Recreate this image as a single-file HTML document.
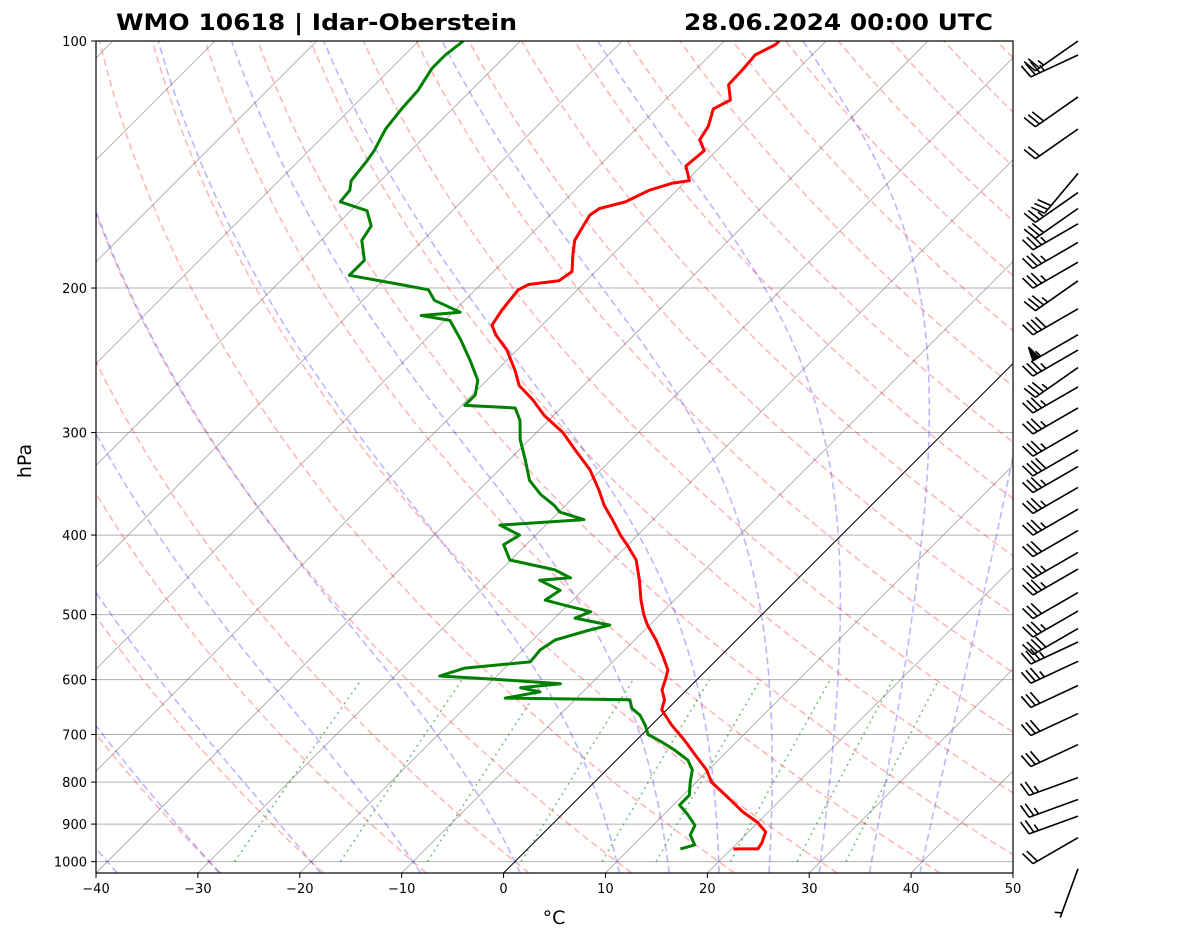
<!DOCTYPE html>
<html><head><meta charset="utf-8">
<style>
html,body{margin:0;padding:0;background:#fff;}
svg{display:block;font-family:"DejaVu Sans","Liberation Sans",sans-serif;}
</style></head>
<body>
<svg id="chart" width="1181" height="941" viewBox="0 0 1181 941" xmlns="http://www.w3.org/2000/svg">
<defs><clipPath id="plotclip"><rect x="96" y="41" width="917" height="832"/></clipPath></defs>
<rect x="0" y="0" width="1181" height="941" fill="#fff"/>
<text x="116" y="30" font-size="22" font-weight="bold" textLength="401" lengthAdjust="spacingAndGlyphs">WMO 10618 | Idar-Oberstein</text>
<text x="684" y="30" font-size="22" font-weight="bold" textLength="309" lengthAdjust="spacingAndGlyphs">28.06.2024 00:00 UTC</text>
<text x="31" y="461" font-size="19" text-anchor="middle" transform="rotate(-90 31 461)">hPa</text>
<text x="554" y="924" font-size="19" text-anchor="middle">°C</text>
<g id="bg" clip-path="url(#plotclip)"></g>
<g id="prof" clip-path="url(#plotclip)"></g>
<g id="axes"></g>
<g id="barbs"></g>
</svg>
<script>
// ---- data ----
const tempPressure = [965,965,949,920,895,870,841,818,800,773,741,711,682,653,635,618,600,584,560,537,515,500,480,454,429,411,400,383,368,352,333,315,300,286,274,263,252,238,228,222,213,207,201,198,196,191,182,175,169,163,160,157,152,149,148,142,136,132,127,121,118,113,108,104,101,100];
const temperature = [20.2,22.6,22.4,21.7,19.9,17.5,15.1,13.1,11.5,9.8,7.2,4.7,2.0,-0.5,-1.2,-2.4,-3.1,-3.8,-5.8,-7.9,-10.2,-11.6,-13.3,-15.4,-17.7,-20.1,-21.7,-24.0,-26.2,-28.3,-31.1,-34.5,-37.4,-40.9,-43.5,-46.3,-48.2,-51.0,-53.6,-54.9,-55.4,-55.6,-55.8,-55.3,-52.7,-52.3,-53.9,-55.1,-55.6,-56.1,-55.8,-53.9,-52.7,-51.1,-49.7,-51.5,-51.2,-52.7,-53.2,-54.4,-53.6,-55.3,-55.4,-55.6,-54.6,-54.6];
const dewPressure = [965,954,928,903,877,853,830,800,773,752,731,715,700,682,663,650,635,632,621,614,607,600,594,581,571,552,537,522,515,505,496,487,480,467,454,451,441,429,411,400,389,383,375,368,357,343,324,306,290,280,278,270,259,245,231,219,216,214,207,201,198,193,185,175,168,161,157,152,148,140,136,128,121,115,108,104,100];
const dewpoint = [15.0,16.0,14.6,14.1,12.4,10.6,10.6,9.4,8.4,7.0,4.7,2.7,0.6,-0.6,-2.1,-3.6,-4.6,-17.0,-14.2,-16.5,-13.0,-19.3,-25.6,-23.9,-18.1,-18.3,-17.8,-15.4,-13.9,-18.0,-17.1,-20.3,-22.7,-22.2,-25.2,-22.4,-24.7,-30.1,-32.2,-31.6,-34.5,-26.8,-29.9,-31.1,-33.5,-36.0,-38.4,-40.9,-42.8,-44.5,-49.7,-49.7,-50.9,-53.6,-56.6,-59.5,-62.8,-59.3,-63.0,-64.6,-67.9,-73.8,-73.8,-76.0,-76.5,-78.4,-81.9,-82.1,-82.9,-83.3,-83.6,-84.6,-85.0,-85.2,-86.0,-86.0,-85.6];
const windPressure = [100,104,117,128,145,153,160,167,176,186,196,212,228,238,250,264,280,298,315,330,350,372,395,420,440,470,495,520,540,570,610,660,720,790,840,880,935,1020];
const windSpeed = [25,35,30,20,30,25,30,35,35,35,35,40,55,35,35,35,35,35,40,35,35,35,30,35,35,30,35,40,35,35,30,30,30,25,25,25,20,5];
const windDir = [235,245,235,235,220,235,235,240,240,240,235,240,240,240,235,240,240,240,240,240,240,240,240,240,240,240,240,240,245,245,245,245,245,250,250,250,240,200];
const xTicks = [-40,-30,-20,-10,0,10,20,30,40,50];
const yTicks = [100,200,300,400,500,600,700,800,900,1000];
const dryTheta0 = [-30,-20,-10,0,10,20,30,40,50,60,70,80,90,100,110,120,130,140,150,160,170,180,190,200];
const moistT0 = [-50,-40,-30,-20,-10,0,10,15,20,25,30,35,40];
const mixRatios = [0.0004,0.001,0.002,0.004,0.007,0.01,0.016,0.024,0.032];

// ---- scales ----
const X0=96,X1=1013,Y0=41,Y1=873,PXC=(X1-X0)/90,YB=356.4;
const PBOT=100*Math.exp((Y1-Y0)/YB);
function yP(p){return Y0+YB*Math.log(p/100);}
function xT(T,p){return X0+(T+40)*PXC+(Y1-yP(p));}
const NS="http://www.w3.org/2000/svg";
function mk(tag,attrs,parent){const e=document.createElementNS(NS,tag);for(const k in attrs)e.setAttribute(k,attrs[k]);parent.appendChild(e);return e;}
const bg=document.getElementById('bg'),prof=document.getElementById('prof'),axes=document.getElementById('axes'),barbs=document.getElementById('barbs');
function pathFrom(pts){return pts.map((q,i)=>(i?'L':'M')+q[0].toFixed(1)+' '+q[1].toFixed(1)).join(' ');}
const pGrid=[];for(let p=PBOT;p>=99;p*=0.99)pGrid.push(p);pGrid.push(100);

yTicks.forEach(p=>{const l=mk('line',{x1:X0,x2:X1,y1:yP(p),y2:yP(p),stroke:'#b0b0b0','stroke-width':1},bg);

});
for(let T=-160;T<=50;T+=10){const l=mk('line',{x1:xT(T,PBOT),y1:Y1,x2:xT(T,100),y2:Y0,stroke:'#777','stroke-width':0.8,'stroke-opacity':0.7},bg);

}
dryTheta0.forEach(t0=>{const th=t0+273.15;const pts=pGrid.map(p=>[xT(th*Math.pow(p/1000,0.2857)-273.15,p),yP(p)]);
const e=mk('path',{d:pathFrom(pts),fill:'none',stroke:'#ff0000','stroke-opacity':0.28,'stroke-width':1.6,'stroke-dasharray':'7,4'},bg);

});
function dTdp(p,T){const Tc=T-273.15;const es=6.112*Math.exp(17.67*Tc/(Tc+243.5));const rs=0.622*es/Math.max(p-es,1);
return (287*T+2.501e6*rs)/(1005+2.501e6*2.501e6*rs*0.622/(287*T*T))/p;}
function integ(T,p0,p1,n){const out=[[p0,T]];const dp=(p1-p0)/n;let p=p0;for(let i=0;i<n;i++){const k1=dTdp(p,T);const k2=dTdp(p+dp/2,T+k1*dp/2);T+=k2*dp;p+=dp;out.push([p,T]);}return out;}
moistT0.forEach(t0=>{const up=integ(t0+273.15,1000,100,300);const dn=integ(t0+273.15,1000,PBOT,20).reverse();
const pts=dn.concat(up).map(a=>[xT(a[1]-273.15,a[0]),yP(a[0])]);
const e=mk('path',{d:pathFrom(pts),fill:'none',stroke:'#0000ff','stroke-opacity':0.28,'stroke-width':1.6,'stroke-dasharray':'7,4'},bg);

});
mixRatios.forEach(w=>{const pts=[];for(let p=1000;p>=600;p-=20){const e=w*p/(0.622+w);const L=Math.log(e/6.112);const Td=243.5*L/(17.67-L);pts.push([xT(Td,p),yP(p)]);}
const e=mk('path',{d:pathFrom(pts),fill:'none',stroke:'#008000','stroke-opacity':0.5,'stroke-width':1.6,'stroke-dasharray':'2,4'},bg);

});
{const l=mk('line',{x1:xT(0,PBOT),y1:Y1,x2:xT(0,100),y2:Y0,stroke:'#000','stroke-width':1},bg);

}
{const d=pathFrom(temperature.map((T,i)=>[xT(T,tempPressure[i]),yP(tempPressure[i])]));
const e=mk('path',{d:d,fill:'none',stroke:'#ff0000','stroke-width':3,'stroke-linejoin':'round'},prof);

}
{const d=pathFrom(dewpoint.map((T,i)=>[xT(T,dewPressure[i]),yP(dewPressure[i])]));
const e=mk('path',{d:d,fill:'none',stroke:'#008000','stroke-width':3,'stroke-linejoin':'round'},prof);

}
{const r=mk('rect',{x:X0,y:Y0,width:X1-X0,height:Y1-Y0,fill:'none',stroke:'#000','stroke-width':1.2},axes);

}
xTicks.forEach(T=>{const x=X0+(T+40)*PXC;mk('line',{x1:x,x2:x,y1:Y1,y2:Y1+5,stroke:'#000'},axes);
const t=mk('text',{x:x,y:Y1+20,'font-size':13,'text-anchor':'middle'},axes);t.textContent=(T<0?'\u2212'+(-T):String(T));

});
yTicks.forEach(p=>{const y=yP(p);mk('line',{x1:X0-5,x2:X0,y1:y,y2:y,stroke:'#000'},axes);
const t=mk('text',{x:X0-9,y:y+5,'font-size':13,'text-anchor':'end'},axes);t.textContent=String(p);

});
windPressure.forEach((p,i)=>{const bx=1078,by=yP(p);const a=windDir[i]*Math.PI/180;
const ux=Math.sin(a),uy=-Math.cos(a);const L=52;const tx=bx+ux*L,ty=by+uy*L;
const g=mk('g',{stroke:'#000','stroke-width':1.6,fill:'#000'},barbs);


mk('line',{x1:bx,y1:by,x2:tx,y2:ty},g);
let px=-uy,py=ux;if(py>0){px=-px;py=-py;}
let s=Math.round(windSpeed[i]/5)*5;let d=0;const step=5;
const fx=(dd)=>[tx-ux*dd,ty-uy*dd];
while(s>=50){const a1=fx(d),a2=fx(d+7);mk('polygon',{points:`${a1[0]},${a1[1]} ${a1[0]+px*14-ux*3},${a1[1]+py*14-uy*3} ${a2[0]},${a2[1]}`},g);d+=9;s-=50;}
while(s>=10){const a1=fx(d);mk('line',{x1:a1[0],y1:a1[1],x2:a1[0]+px*14+ux*4,y2:a1[1]+py*14+uy*4},g);d+=step;s-=10;}
if(s>=5){if(d===0)d=step;const a1=fx(d);mk('line',{x1:a1[0],y1:a1[1],x2:a1[0]+px*7+ux*2,y2:a1[1]+py*7+uy*2},g);}
});
</script>
</body></html>
